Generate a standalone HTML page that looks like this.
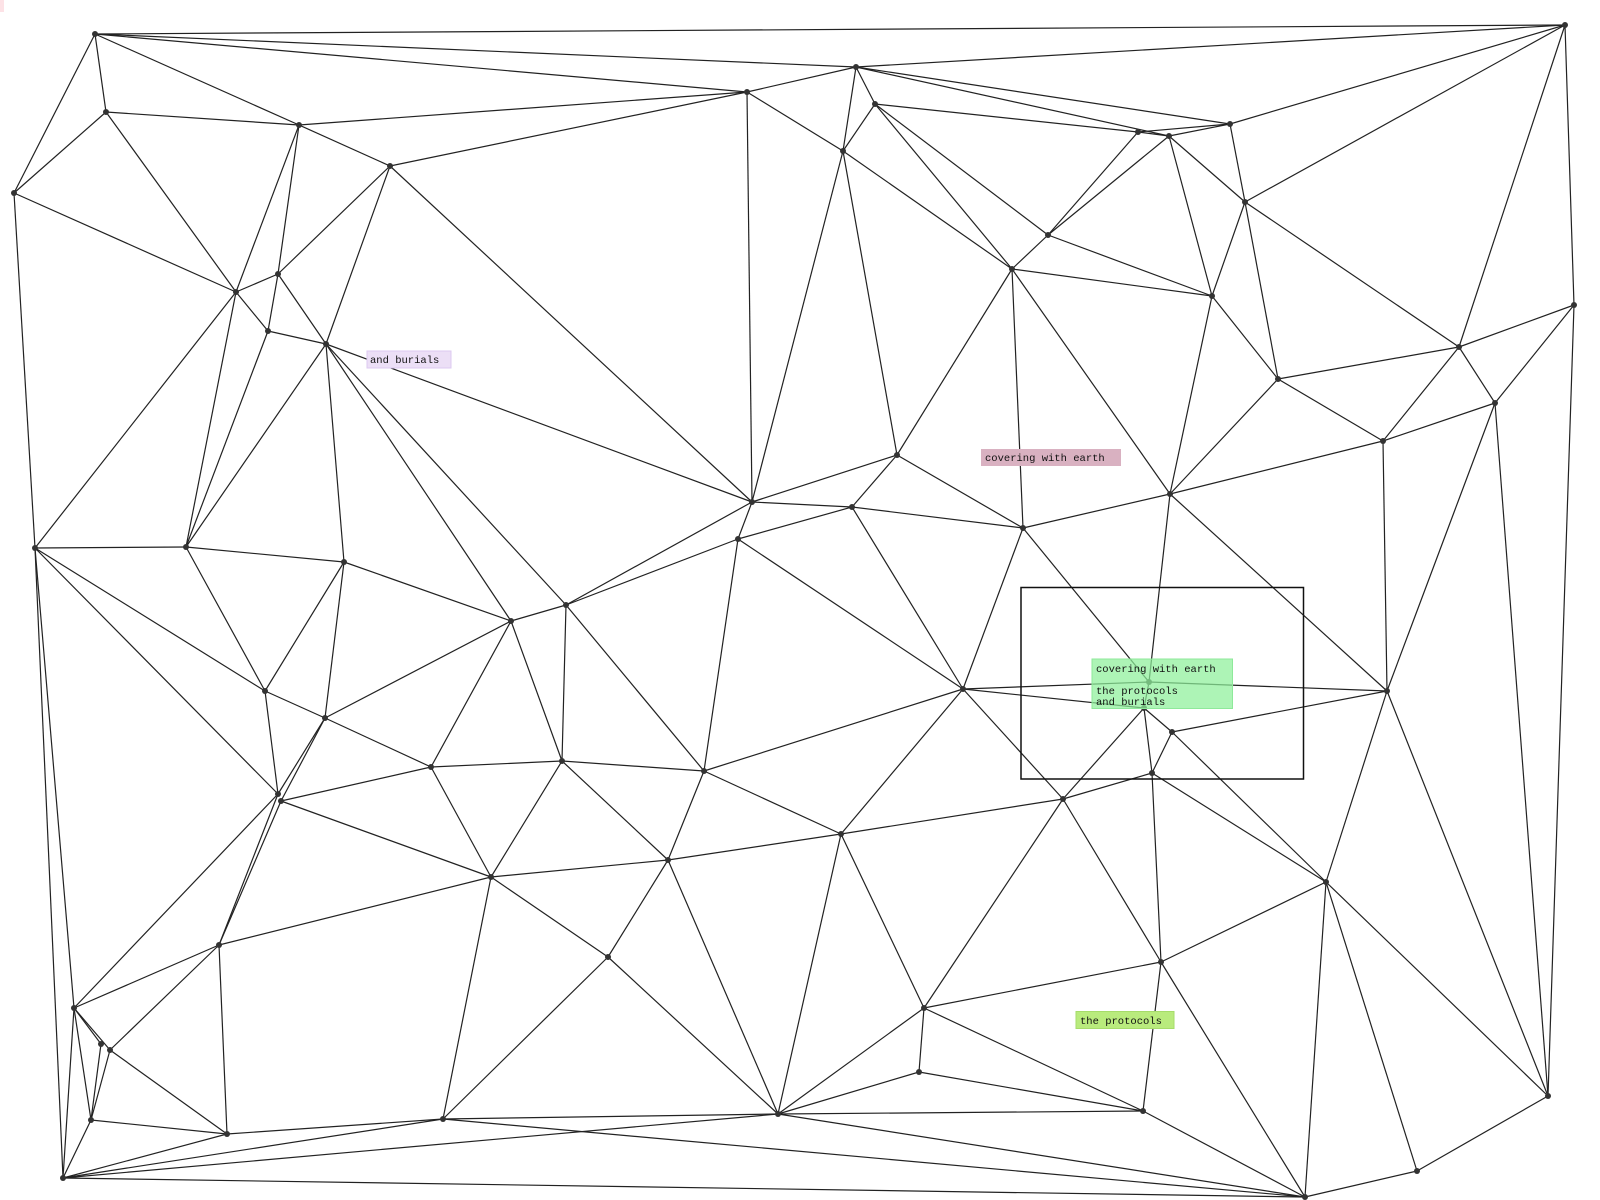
<!DOCTYPE html>
<html><head><meta charset="utf-8"><style>
html,body{margin:0;padding:0;background:#fff;width:1600px;height:1200px;overflow:hidden}
svg{display:block}
text{font-family:"Liberation Mono",monospace;font-size:10.5px;fill:#111}
</style></head><body>
<svg width="1600" height="1200" viewBox="0 0 1600 1200" xmlns="http://www.w3.org/2000/svg">
<rect x="0" y="0" width="4" height="12" fill="#fde2e6"/>
<g stroke="#222" stroke-width="1.2" fill="none">
<line x1="95" y1="34" x2="1565" y2="25"/><line x1="95" y1="34" x2="856" y2="67"/><line x1="95" y1="34" x2="747" y2="92"/><line x1="95" y1="34" x2="106" y2="112"/><line x1="95" y1="34" x2="14" y2="193"/><line x1="95" y1="34" x2="299" y2="125"/>
<line x1="106" y1="112" x2="14" y2="193"/><line x1="106" y1="112" x2="299" y2="125"/><line x1="106" y1="112" x2="236" y2="292"/><line x1="14" y1="193" x2="236" y2="292"/><line x1="14" y1="193" x2="35" y2="548"/>
<line x1="299" y1="125" x2="390" y2="166"/><line x1="299" y1="125" x2="747" y2="92"/><line x1="299" y1="125" x2="236" y2="292"/><line x1="299" y1="125" x2="278" y2="274"/><line x1="390" y1="166" x2="747" y2="92"/><line x1="390" y1="166" x2="278" y2="274"/><line x1="390" y1="166" x2="326" y2="344"/><line x1="390" y1="166" x2="752" y2="502"/>
<line x1="278" y1="274" x2="236" y2="292"/><line x1="278" y1="274" x2="326" y2="344"/><line x1="278" y1="274" x2="268" y2="331"/><line x1="236" y1="292" x2="268" y2="331"/><line x1="268" y1="331" x2="326" y2="344"/><line x1="236" y1="292" x2="35" y2="548"/><line x1="236" y1="292" x2="186" y2="547"/><line x1="268" y1="331" x2="186" y2="547"/><line x1="326" y1="344" x2="186" y2="547"/><line x1="326" y1="344" x2="344" y2="562"/><line x1="326" y1="344" x2="511" y2="621"/><line x1="326" y1="344" x2="566" y2="605"/><line x1="326" y1="344" x2="752" y2="502"/>
<line x1="35" y1="548" x2="186" y2="547"/><line x1="35" y1="548" x2="265" y2="691"/><line x1="35" y1="548" x2="278" y2="794"/><line x1="35" y1="548" x2="63" y2="1178"/><line x1="35" y1="548" x2="74" y2="1008"/><line x1="186" y1="547" x2="344" y2="562"/><line x1="186" y1="547" x2="265" y2="691"/><line x1="344" y1="562" x2="511" y2="621"/><line x1="344" y1="562" x2="265" y2="691"/><line x1="344" y1="562" x2="325" y2="718"/>
<line x1="856" y1="67" x2="747" y2="92"/><line x1="856" y1="67" x2="843" y2="151"/><line x1="856" y1="67" x2="875" y2="104"/><line x1="856" y1="67" x2="1230" y2="124"/><line x1="856" y1="67" x2="1169" y2="136"/><line x1="856" y1="67" x2="1565" y2="25"/>
<line x1="875" y1="104" x2="1138" y2="132"/><line x1="875" y1="104" x2="843" y2="151"/><line x1="875" y1="104" x2="1012" y2="269"/><line x1="875" y1="104" x2="1048" y2="235"/><line x1="747" y1="92" x2="843" y2="151"/><line x1="747" y1="92" x2="752" y2="502"/>
<line x1="843" y1="151" x2="1012" y2="269"/><line x1="843" y1="151" x2="752" y2="502"/><line x1="843" y1="151" x2="897" y2="455"/><line x1="1138" y1="132" x2="1048" y2="235"/><line x1="1169" y1="136" x2="1048" y2="235"/><line x1="1138" y1="132" x2="1169" y2="136"/><line x1="1138" y1="132" x2="1230" y2="124"/><line x1="1169" y1="136" x2="1230" y2="124"/><line x1="1169" y1="136" x2="1245" y2="202"/><line x1="1169" y1="136" x2="1212" y2="296"/>
<line x1="1048" y1="235" x2="1012" y2="269"/><line x1="1048" y1="235" x2="1212" y2="296"/><line x1="1012" y1="269" x2="1212" y2="296"/><line x1="1012" y1="269" x2="897" y2="455"/><line x1="1012" y1="269" x2="1023" y2="528"/><line x1="1012" y1="269" x2="1170" y2="494"/>
<line x1="1565" y1="25" x2="1230" y2="124"/><line x1="1565" y1="25" x2="1245" y2="202"/><line x1="1565" y1="25" x2="1459" y2="347"/><line x1="1565" y1="25" x2="1574" y2="305"/><line x1="1230" y1="124" x2="1245" y2="202"/><line x1="1245" y1="202" x2="1212" y2="296"/><line x1="1245" y1="202" x2="1278" y2="379"/><line x1="1245" y1="202" x2="1459" y2="347"/><line x1="1212" y1="296" x2="1278" y2="379"/><line x1="1212" y1="296" x2="1170" y2="494"/>
<line x1="1278" y1="379" x2="1459" y2="347"/><line x1="1278" y1="379" x2="1383" y2="441"/><line x1="1278" y1="379" x2="1170" y2="494"/><line x1="1459" y1="347" x2="1574" y2="305"/><line x1="1459" y1="347" x2="1495" y2="403"/><line x1="1459" y1="347" x2="1383" y2="441"/><line x1="1574" y1="305" x2="1495" y2="403"/><line x1="1574" y1="305" x2="1548" y2="1096"/>
<line x1="1495" y1="403" x2="1383" y2="441"/><line x1="1495" y1="403" x2="1387" y2="691"/><line x1="1495" y1="403" x2="1548" y2="1096"/><line x1="1383" y1="441" x2="1170" y2="494"/><line x1="1383" y1="441" x2="1387" y2="691"/><line x1="1170" y1="494" x2="1023" y2="528"/><line x1="1170" y1="494" x2="1149" y2="682"/><line x1="1170" y1="494" x2="1387" y2="691"/>
<line x1="897" y1="455" x2="752" y2="502"/><line x1="897" y1="455" x2="852" y2="507"/><line x1="897" y1="455" x2="1023" y2="528"/><line x1="752" y1="502" x2="852" y2="507"/><line x1="752" y1="502" x2="738" y2="539"/><line x1="752" y1="502" x2="566" y2="605"/><line x1="738" y1="539" x2="566" y2="605"/><line x1="852" y1="507" x2="738" y2="539"/><line x1="852" y1="507" x2="1023" y2="528"/><line x1="852" y1="507" x2="963" y2="689"/><line x1="1023" y1="528" x2="963" y2="689"/><line x1="1023" y1="528" x2="1149" y2="682"/><line x1="738" y1="539" x2="704" y2="771"/><line x1="738" y1="539" x2="963" y2="689"/>
<line x1="265" y1="691" x2="325" y2="718"/><line x1="265" y1="691" x2="278" y2="794"/><line x1="325" y1="718" x2="431" y2="767"/><line x1="325" y1="718" x2="511" y2="621"/><line x1="325" y1="718" x2="281" y2="801"/><line x1="325" y1="718" x2="278" y2="794"/><line x1="278" y1="794" x2="219" y2="945"/><line x1="281" y1="801" x2="219" y2="945"/><line x1="278" y1="794" x2="74" y2="1008"/><line x1="281" y1="801" x2="431" y2="767"/><line x1="281" y1="801" x2="491" y2="877"/>
<line x1="431" y1="767" x2="511" y2="621"/><line x1="431" y1="767" x2="491" y2="877"/><line x1="431" y1="767" x2="562" y2="761"/><line x1="511" y1="621" x2="562" y2="761"/><line x1="511" y1="621" x2="566" y2="605"/><line x1="491" y1="877" x2="562" y2="761"/><line x1="491" y1="877" x2="668" y2="860"/><line x1="491" y1="877" x2="608" y2="957"/><line x1="491" y1="877" x2="443" y2="1119"/><line x1="491" y1="877" x2="219" y2="945"/>
<line x1="219" y1="945" x2="74" y2="1008"/><line x1="219" y1="945" x2="110" y2="1050"/><line x1="219" y1="945" x2="227" y2="1134"/><line x1="74" y1="1008" x2="101" y2="1044"/><line x1="74" y1="1008" x2="110" y2="1050"/><line x1="74" y1="1008" x2="91" y2="1120"/><line x1="74" y1="1008" x2="63" y2="1178"/><line x1="101" y1="1044" x2="91" y2="1120"/><line x1="110" y1="1050" x2="91" y2="1120"/><line x1="110" y1="1050" x2="227" y2="1134"/><line x1="91" y1="1120" x2="227" y2="1134"/><line x1="91" y1="1120" x2="63" y2="1178"/>
<line x1="227" y1="1134" x2="443" y2="1119"/><line x1="227" y1="1134" x2="63" y2="1178"/><line x1="63" y1="1178" x2="443" y2="1119"/><line x1="63" y1="1178" x2="778" y2="1114"/><line x1="63" y1="1178" x2="1305" y2="1197"/><line x1="443" y1="1119" x2="608" y2="957"/><line x1="443" y1="1119" x2="778" y2="1114"/><line x1="443" y1="1119" x2="1305" y2="1197"/>
<line x1="566" y1="605" x2="562" y2="761"/><line x1="566" y1="605" x2="704" y2="771"/><line x1="562" y1="761" x2="704" y2="771"/><line x1="562" y1="761" x2="668" y2="860"/><line x1="704" y1="771" x2="963" y2="689"/><line x1="704" y1="771" x2="668" y2="860"/><line x1="704" y1="771" x2="841" y2="834"/><line x1="963" y1="689" x2="841" y2="834"/><line x1="963" y1="689" x2="1149" y2="682"/><line x1="963" y1="689" x2="1144" y2="708"/><line x1="963" y1="689" x2="1063" y2="799"/>
<line x1="668" y1="860" x2="841" y2="834"/><line x1="841" y1="834" x2="1063" y2="799"/><line x1="668" y1="860" x2="608" y2="957"/><line x1="668" y1="860" x2="778" y2="1114"/><line x1="608" y1="957" x2="778" y2="1114"/><line x1="841" y1="834" x2="778" y2="1114"/><line x1="841" y1="834" x2="924" y2="1008"/><line x1="924" y1="1008" x2="1063" y2="799"/><line x1="924" y1="1008" x2="919" y2="1072"/><line x1="924" y1="1008" x2="778" y2="1114"/><line x1="924" y1="1008" x2="1161" y2="962"/><line x1="924" y1="1008" x2="1143" y2="1111"/><line x1="919" y1="1072" x2="778" y2="1114"/><line x1="919" y1="1072" x2="1143" y2="1111"/><line x1="778" y1="1114" x2="1143" y2="1111"/><line x1="778" y1="1114" x2="1305" y2="1197"/>
<line x1="1149" y1="682" x2="1144" y2="708"/><line x1="1149" y1="682" x2="1387" y2="691"/><line x1="1144" y1="708" x2="1152" y2="773"/><line x1="1144" y1="708" x2="1063" y2="799"/><line x1="1144" y1="708" x2="1172" y2="732"/><line x1="1172" y1="732" x2="1387" y2="691"/><line x1="1172" y1="732" x2="1152" y2="773"/><line x1="1172" y1="732" x2="1326" y2="882"/><line x1="1152" y1="773" x2="1063" y2="799"/><line x1="1152" y1="773" x2="1161" y2="962"/><line x1="1152" y1="773" x2="1326" y2="882"/><line x1="1063" y1="799" x2="1161" y2="962"/>
<line x1="1387" y1="691" x2="1326" y2="882"/><line x1="1387" y1="691" x2="1548" y2="1096"/><line x1="1326" y1="882" x2="1161" y2="962"/><line x1="1326" y1="882" x2="1305" y2="1197"/><line x1="1326" y1="882" x2="1417" y2="1171"/><line x1="1326" y1="882" x2="1548" y2="1096"/><line x1="1161" y1="962" x2="1143" y2="1111"/><line x1="1161" y1="962" x2="1305" y2="1197"/><line x1="1143" y1="1111" x2="1305" y2="1197"/><line x1="1305" y1="1197" x2="1417" y2="1171"/><line x1="1417" y1="1171" x2="1548" y2="1096"/>
</g>
<rect x="1021" y="587.5" width="282.5" height="191.5" fill="none" stroke="#111" stroke-width="1.5"/>
<rect x="367" y="351" width="84" height="17" fill="#ecdff6" stroke="#dccaf0" stroke-width="1"/>
<text x="370" y="363">and burials</text>
<rect x="981" y="449" width="140" height="17" fill="#d9b1c1"/>
<text x="985" y="461">covering with earth</text>
<rect x="1076" y="1011.5" width="98" height="17" fill="#b9eb7d" stroke="#a6dc6a" stroke-width="1"/>
<text x="1080" y="1024">the protocols</text>
<g fill="#333">
<circle cx="95" cy="34" r="3"/><circle cx="1565" cy="25" r="3"/><circle cx="856" cy="67" r="3"/><circle cx="747" cy="92" r="3"/><circle cx="875" cy="104" r="3"/><circle cx="106" cy="112" r="3"/><circle cx="299" cy="125" r="3"/><circle cx="1138" cy="132" r="3"/><circle cx="1169" cy="136" r="3"/><circle cx="1230" cy="124" r="3"/><circle cx="843" cy="151" r="3"/><circle cx="390" cy="166" r="3"/><circle cx="14" cy="193" r="3"/><circle cx="1245" cy="202" r="3"/><circle cx="1048" cy="235" r="3"/><circle cx="1012" cy="269" r="3"/><circle cx="1212" cy="296" r="3"/><circle cx="236" cy="292" r="3"/><circle cx="278" cy="274" r="3"/><circle cx="268" cy="331" r="3"/><circle cx="326" cy="344" r="3"/><circle cx="1574" cy="305" r="3"/><circle cx="1459" cy="347" r="3"/><circle cx="1278" cy="379" r="3"/><circle cx="1495" cy="403" r="3"/><circle cx="1383" cy="441" r="3"/><circle cx="897" cy="455" r="3"/><circle cx="1170" cy="494" r="3"/><circle cx="752" cy="502" r="3"/><circle cx="852" cy="507" r="3"/><circle cx="1023" cy="528" r="3"/><circle cx="738" cy="539" r="3"/><circle cx="35" cy="548" r="3"/><circle cx="186" cy="547" r="3"/><circle cx="344" cy="562" r="3"/><circle cx="566" cy="605" r="3"/><circle cx="511" cy="621" r="3"/><circle cx="963" cy="689" r="3"/><circle cx="1387" cy="691" r="3"/><circle cx="1172" cy="732" r="3"/><circle cx="265" cy="691" r="3"/><circle cx="325" cy="718" r="3"/><circle cx="431" cy="767" r="3"/><circle cx="562" cy="761" r="3"/><circle cx="704" cy="771" r="3"/><circle cx="1152" cy="773" r="3"/><circle cx="278" cy="794" r="3"/><circle cx="281" cy="801" r="3"/><circle cx="1063" cy="799" r="3"/><circle cx="841" cy="834" r="3"/><circle cx="668" cy="860" r="3"/><circle cx="491" cy="877" r="3"/><circle cx="1326" cy="882" r="3"/><circle cx="219" cy="945" r="3"/><circle cx="608" cy="957" r="3"/><circle cx="1161" cy="962" r="3"/><circle cx="924" cy="1008" r="3"/><circle cx="74" cy="1008" r="3"/><circle cx="101" cy="1044" r="3"/><circle cx="110" cy="1050" r="3"/><circle cx="919" cy="1072" r="3"/><circle cx="1548" cy="1096" r="3"/><circle cx="1143" cy="1111" r="3"/><circle cx="778" cy="1114" r="3"/><circle cx="443" cy="1119" r="3"/><circle cx="91" cy="1120" r="3"/><circle cx="227" cy="1134" r="3"/><circle cx="1417" cy="1171" r="3"/><circle cx="63" cy="1178" r="3"/><circle cx="1305" cy="1197" r="3"/>
<circle cx="1149" cy="682" r="3"/><circle cx="1144" cy="708" r="3"/>
</g>
<rect x="1092" y="659" width="140.5" height="49.5" fill="#8ef09a" fill-opacity="0.72" stroke="#8ee99a" stroke-width="1"/>
<text x="1096" y="672">covering with earth</text>
<text x="1096" y="694">the protocols</text>
<text x="1096" y="705">and burials</text>
</svg>
</body></html>
